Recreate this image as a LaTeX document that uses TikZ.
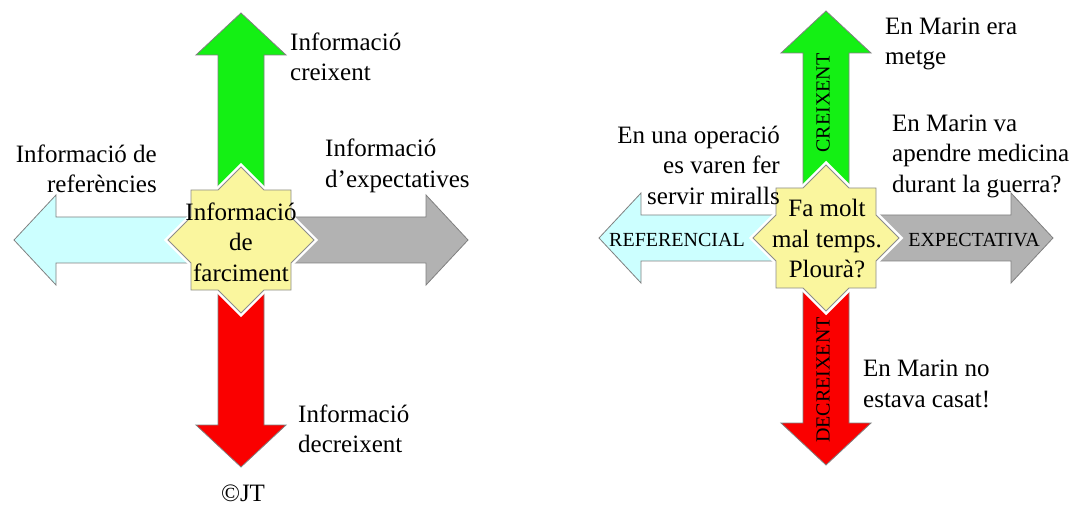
\documentclass[tikz,border=0pt]{standalone}
\usepackage{fontspec}
\setmainfont{Liberation Serif}
\definecolor{creixgreen}{RGB}{20,240,20}
\definecolor{decreixred}{RGB}{250,0,0}
\definecolor{refcyan}{RGB}{204,255,255}
\definecolor{expgray}{RGB}{178,178,178}
\definecolor{staryellow}{RGB}{250,246,158}
\tikzset{
  blockarrow/.style={draw=black!50,line width=0.8pt,line join=miter},
  eightstar/.style={insert path={(0,-73) -- (23,-50) -- (50,-50) -- (50,-23) -- (73,0) -- (50,23) -- (50,50) -- (23,50) -- (0,73) -- (-23,50) -- (-50,50) -- (-50,23) -- (-73,0) -- (-50,-23) -- (-50,-50) -- (-23,-50) -- cycle}},
  starbox/.style={fill=staryellow,draw=black!45,line width=0.8pt},
  txt/.style={font=\fontsize{25}{30.5}\selectfont,inner sep=0pt},
  lbl/.style={font=\fontsize{20}{24}\selectfont,inner sep=0pt}
}

\begin{document}
\begin{tikzpicture}[x=1pt,y=-1pt]
      \useasboundingbox (0,0) rectangle (1074,505);
      % the two crosses of arrows with the star on top
      \foreach \cx/\cy in {241/240,826/238} {
        \begin{scope}[shift={(\cx,\cy)}]
          \foreach \ang/\col in {90/creixgreen,-90/decreixred,180/refcyan,0/expgray}
            \draw[blockarrow,fill=\col,rotate=\ang] (40,-23) -- (185,-23) -- (185,-45) -- (227,0) -- (185,45) -- (185,23) -- (40,23) -- cycle;
          \draw[white,line width=6pt,line join=miter,eightstar];
          \draw[starbox,eightstar];
        \end{scope}
      }
      % left
      \node[txt,align=center] (farciment) at (241,242) {Informació\\de\\farciment};
      \node[txt,align=left,anchor=west] (creixent) at (290,57) {Informació\\creixent};
      \node[txt,align=right,anchor=east] (referencies) at (157,169) {Informació de\\referències};
      \node[txt,align=left,anchor=west] (expectatives) at (325,166) {Informació\\d’expectatives};
      \node[txt,align=left,anchor=west] (decreixent) at (298,429) {Informació\\decreixent};
      \node[txt] (copyright) at (243,493) {©JT};
      % right
      \node[txt,align=center] (temps) at (827,239) {Fa molt\\mal temps.\\Plourà?};
      \node[lbl,rotate=90] (creixlbl) at (823,103) {CREIXENT};
      \node[lbl,rotate=90] (decreixlbl) at (823,380) {DECREIXENT};
      \node[lbl] (reflbl) at (677,240) {REFERENCIAL};
      \node[lbl] (explbl) at (974,240) {EXPECTATIVA};
      \node[txt,align=left,anchor=west] (metge) at (885,44) {En Marin era\\metge};
      \node[txt,align=left,anchor=west] (guerra) at (892,156) {En Marin va\\apendre medicina\\durant la guerra?};
      \node[txt,align=right,anchor=east] (miralls) at (780,165) {En una operació\\es varen fer\\servir miralls};
      \node[txt,align=left,anchor=west] (casat) at (863,384) {En Marin no\\estava casat!};
    \end{tikzpicture}
\end{document}
